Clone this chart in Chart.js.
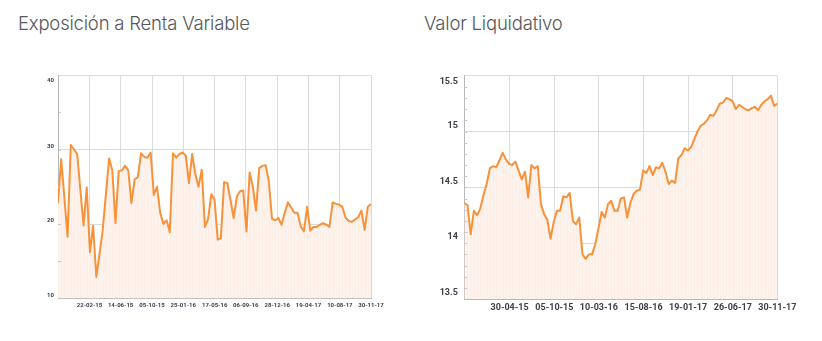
<!DOCTYPE html>
<html lang="es">
<head>
<meta charset="utf-8">
<script src="https://cdn.jsdelivr.net/npm/chart.js@4/dist/chart.umd.min.js"></script>
<style>
  html, body { margin: 0; padding: 0; background: #ffffff; }
  body { width: 822px; height: 341px; position: relative; overflow: hidden; }
  .titulo {
    position: absolute; top: 12px; margin: 0;
    font-family: "Inter", "Lato", sans-serif; font-weight: 300;
    font-size: 18.5px; color: #55585e; letter-spacing: -0.2px; white-space: nowrap;
  }
  canvas { position: absolute; }
</style>
</head>
<body>
<h2 class="titulo" style="left:18px">Exposición a Renta Variable</h2>
<h2 class="titulo" style="left:424px">Valor Liquidativo</h2>
<canvas id="exposicion" width="400" height="260" style="left:0;top:60px"></canvas>
<canvas id="liquidativo" width="412" height="260" style="left:410px;top:60px"></canvas>
<script>
// Exposición a renta variable (%), serie periódica
const exposicionInicio = '2014-11-01';
const exposicionFin = '2017-11-30';
const exposicionValores = [
  22.8, 28.7, 23.5, 18.3, 30.6, 30.0, 29.4, 24.6, 19.8, 24.9,
  16.2, 19.8, 12.9, 16.0, 19.2, 24.0, 28.8, 27.2, 20.1, 27.1,
  27.2, 27.8, 27.2, 22.8, 26.0, 26.3, 29.5, 29.0, 28.9, 29.6,
  23.9, 25.0, 21.5, 20.0, 20.5, 18.9, 29.5, 28.9, 29.4, 29.6,
  29.2, 25.5, 29.4, 26.7, 25.0, 27.3, 19.6, 20.7, 24.0, 23.3,
  17.9, 18.1, 25.6, 25.5, 23.2, 20.8, 23.7, 24.4, 24.5, 19.0,
  26.9, 25.0, 21.8, 27.5, 27.8, 27.9, 25.8, 20.7, 20.5, 20.8,
  19.9, 21.5, 22.9, 22.2, 21.5, 21.5, 19.7, 19.0, 22.3, 19.1,
  19.6, 19.6, 19.9, 20.1, 19.9, 19.6, 22.9, 22.7, 22.6, 22.3,
  20.9, 20.4, 20.3, 20.6, 20.9, 21.8, 19.2, 22.3, 22.7
];
const exposicionFechas = ['22-02-15', '14-06-15', '05-10-15', '25-01-16', '17-05-16',
  '06-09-16', '28-12-16', '19-04-17', '10-08-17', '30-11-17'];
const exposicionEjeY = [10, 20, 30, 40];

// Valor liquidativo (€), serie periódica
const liquidativoInicio = '2014-11-21';
const liquidativoFin = '2017-11-30';
const liquidativoValores = [
  14.36, 14.34, 14.08, 14.29, 14.25, 14.31, 14.43, 14.53, 14.67, 14.69,
  14.68, 14.74, 14.81, 14.75, 14.71, 14.70, 14.73, 14.65, 14.57, 14.64,
  14.41, 14.70, 14.67, 14.69, 14.35, 14.26, 14.21, 14.04, 14.19, 14.29,
  14.29, 14.42, 14.41, 14.45, 14.20, 14.17, 14.23, 13.90, 13.86, 13.90,
  13.90, 13.99, 14.13, 14.28, 14.23, 14.35, 14.38, 14.29, 14.29, 14.40,
  14.41, 14.23, 14.36, 14.44, 14.47, 14.48, 14.65, 14.63, 14.69, 14.61,
  14.68, 14.67, 14.72, 14.64, 14.53, 14.56, 14.54, 14.76, 14.79, 14.85,
  14.83, 14.86, 14.93, 15.00, 15.05, 15.07, 15.10, 15.15, 15.14, 15.19,
  15.25, 15.26, 15.30, 15.29, 15.27, 15.20, 15.24, 15.22, 15.20, 15.19,
  15.21, 15.22, 15.19, 15.24, 15.27, 15.29, 15.32, 15.23, 15.25
];
const liquidativoFechas = ['30-04-15', '05-10-15', '10-03-16', '15-08-16',
  '19-01-17', '26-06-17', '30-11-17'];
const liquidativoEjeY = [13.5, 14, 14.5, 15, 15.5];

const NARANJA = '#f7923a';
const RELLENO = '#fdf3ec';
const REJILLA = '#dcdcdc';
const TEXTO = '#3c4049';

function diaUTC(iso) {
  const [a, m, d] = iso.split('-').map(Number);
  return Date.UTC(a, m - 1, d) / 86400000;
}
function isoDesdeCorta(f) {
  const [d, m, a] = f.split('-');
  return '20' + a + '-' + m + '-' + d;
}

// Convierte una fecha dd-mm-aa a la posición del índice de la serie
function posicionFecha(fecha, inicio, fin, n) {
  const t0 = diaUTC(inicio), t1 = diaUTC(fin);
  return (diaUTC(isoDesdeCorta(fecha)) - t0) / (t1 - t0) * (n - 1);
}

// Franjas verticales del área, etiquetas del eje Y y marcas menores
function pluginDecoracion(cfg) {
  return {
    id: 'decoracion',
    beforeDatasetDraw(chart) {
      const meta = chart.getDatasetMeta(0);
      const ctx = chart.ctx, area = chart.chartArea;
      ctx.save();
      ctx.strokeStyle = 'rgba(240,150,95,0.045)';
      ctx.lineWidth = 1;
      meta.data.forEach(p => {
        const x = Math.round(p.x) + 0.5;
        ctx.beginPath();
        ctx.moveTo(x, p.y);
        ctx.lineTo(x, area.bottom);
        ctx.stroke();
      });
      ctx.restore();
    },
    afterDraw(chart) {
      const ctx = chart.ctx, area = chart.chartArea, y = chart.scales.y;
      ctx.save();
      // marcas menores
      ctx.strokeStyle = '#c8c8c8';
      ctx.lineWidth = 1;
      const pasos = Math.round((y.max - y.min) / cfg.menor);
      for (let k = 1; k < pasos; k++) {
        const py = Math.round(y.getPixelForValue(y.min + k * cfg.menor)) + 0.5;
        ctx.beginPath();
        ctx.moveTo(area.left, py);
        ctx.lineTo(area.left + cfg.largoMarca, py);
        ctx.stroke();
      }
      // etiquetas
      ctx.fillStyle = TEXTO;
      ctx.font = 'bold ' + cfg.fuente + 'px Roboto, sans-serif';
      ctx.textAlign = 'right';
      ctx.textBaseline = 'middle';
      cfg.etiquetas.forEach(v => {
        let py = y.getPixelForValue(v) - cfg.desplazamiento;
        py = Math.max(py, area.top + cfg.margenSup);
        ctx.fillText(String(v), area.left - cfg.separacion, py);
      });
      ctx.restore();
    }
  };
}

function crearGrafico(id, valores, inicio, fin, fechas, ejeY, opc) {
  const n = valores.length;
  const posiciones = fechas.map(f => posicionFecha(f, inicio, fin, n));
  return new Chart(document.getElementById(id), {
    type: 'line',
    data: {
      datasets: [{
        data: valores.map((v, i) => ({ x: i, y: v })),
        borderColor: NARANJA,
        borderWidth: 2,
        backgroundColor: RELLENO,
        fill: 'start',
        pointRadius: 0,
        tension: 0,
        borderJoinStyle: 'round'
      }]
    },
    options: {
      responsive: false,
      animation: false,
      layout: { padding: opc.padding },
      plugins: { legend: { display: false }, tooltip: { enabled: false } },
      scales: {
        x: {
          type: 'linear',
          min: 0,
          max: n - 1,
          afterBuildTicks: s => { s.ticks = posiciones.map(v => ({ value: v })); },
          afterFit: s => { s.height = opc.altoX; },
          ticks: {
            autoSkip: false,
            maxRotation: 0,
            padding: opc.padX,
            color: TEXTO,
            font: { family: 'Roboto, sans-serif', size: opc.fuenteX, weight: 'bold' },
            callback: (v, i) => fechas[i]
          },
          grid: { color: REJILLA, drawTicks: false },
          border: { color: '#b8b8b8' }
        },
        y: {
          min: ejeY[0],
          max: ejeY[ejeY.length - 1],
          afterBuildTicks: s => { s.ticks = ejeY.map(v => ({ value: v })); },
          afterFit: s => { s.width = opc.anchoY; },
          ticks: { display: false },
          grid: { color: REJILLA, drawTicks: false },
          border: { color: '#b8b8b8' }
        }
      }
    },
    plugins: [pluginDecoracion(opc.deco)]
  });
}

crearGrafico('exposicion', exposicionValores, exposicionInicio, exposicionFin,
  exposicionFechas, exposicionEjeY, {
    padding: { left: 0, top: 15, right: 29, bottom: 7.5 },
    anchoY: 58, altoX: 14, padX: 3, fuenteX: 6,
    deco: { menor: 5, largoMarca: 3, fuente: 6, desplazamiento: 3.5, margenSup: 5,
            separacion: 4, etiquetas: exposicionEjeY }
  });

crearGrafico('liquidativo', liquidativoValores, liquidativoInicio, liquidativoFin,
  liquidativoFechas, liquidativoEjeY, {
    padding: { left: 0, top: 15.7, right: 44.7, bottom: 5 },
    anchoY: 54.3, altoX: 16, padX: 3, fuenteX: 9,
    deco: { menor: 0.1, largoMarca: 3, fuente: 9, desplazamiento: 6, margenSup: 6,
            separacion: 6.5, etiquetas: liquidativoEjeY }
  });
</script>
</body>
</html>
